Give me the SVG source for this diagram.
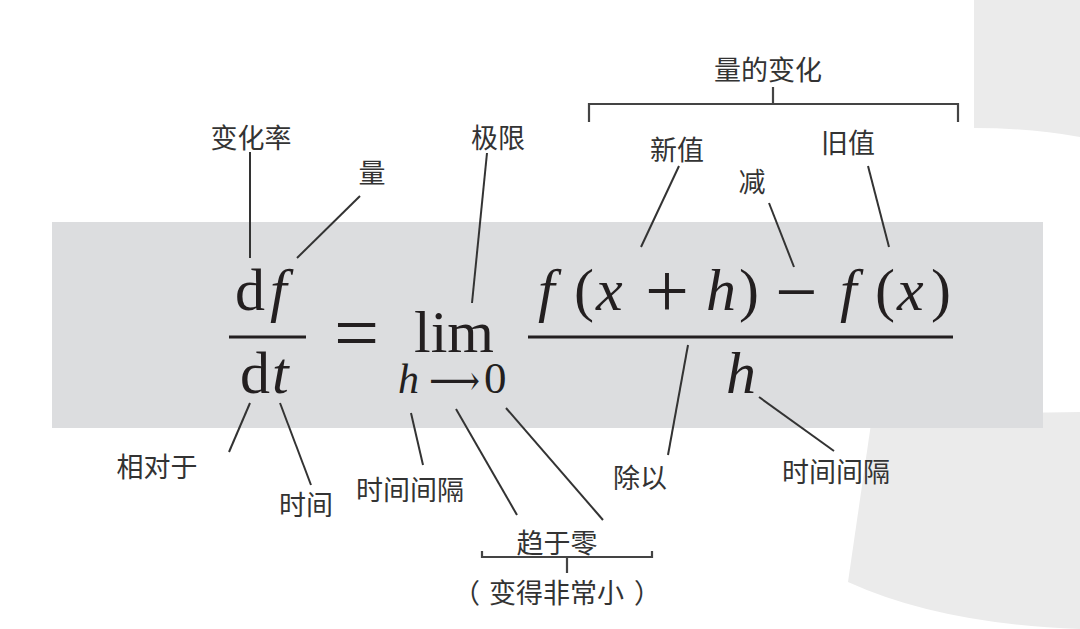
<svg xmlns="http://www.w3.org/2000/svg" width="1080" height="629" viewBox="0 0 1080 629">
<style>
.lbl{font-family:"Noto Sans CJK SC","Noto Sans",sans-serif;font-size:27px;fill:#333;text-anchor:middle}
.m{font-family:"Liberation Serif","Times New Roman",serif;fill:#231f20}
.i{font-style:italic}
.ln{stroke:#333;stroke-width:2;fill:none}
.br{stroke:#444;stroke-width:2.2;fill:none}
</style>
<rect width="1080" height="629" fill="#fff"/>
<g id="background">
<path d="M974,0 H1080 V137 Q1030,128 974,128 Z" fill="#ebebeb"/>
<path d="M873,410 Q980,414 1080,412 V629 Q940,624 848,582 Z" fill="#ebebeb"/>
<rect x="52" y="222" width="991" height="206" fill="#dcdddf"/>
</g>
<g id="formula">
<g id="dfdt">
<text class="m" font-size="60" y="310"><tspan x="235">d</tspan><tspan class="i" x="270">f</tspan></text>
<rect x="229" y="335.5" width="77" height="3" fill="#231f20"/>
<text class="m" font-size="60" y="393"><tspan x="240">d</tspan><tspan class="i" x="272">t</tspan></text>
</g>
<text id="eq" class="m" font-size="80" x="334" y="360">=</text>
<g id="lim">
<text class="m" font-size="60" x="414" y="352">lim</text>
<text class="m i" font-size="42" x="398" y="393">h</text>
<text font-family="DejaVu Serif" fill="#231f20" font-size="42" x="429" y="395" textLength="51" lengthAdjust="spacingAndGlyphs">⟶</text>
<text class="m" font-size="45" x="484" y="393">0</text>
</g>
<g id="quotient">
<text class="m" font-size="60" y="310"><tspan class="i" x="538">f</tspan><tspan x="574">(</tspan><tspan class="i" x="596">x</tspan><tspan x="706" class="i">h</tspan><tspan x="739">)</tspan><tspan class="i" x="840">f</tspan><tspan x="875">(</tspan><tspan class="i" x="897">x</tspan><tspan x="931">)</tspan></text>
<text class="m" font-size="78" x="645" y="317">+</text>
<text class="m" font-size="75" x="775" y="317">−</text>
<rect x="528" y="335.5" width="425" height="3" fill="#231f20"/>
<text class="m i" font-size="60" x="726" y="393">h</text>
</g>
</g>
<g id="connectors">
<line class="ln" x1="250" y1="152" x2="250" y2="258"/>
<line class="ln" x1="360" y1="196" x2="297" y2="258"/>
<line class="ln" x1="487" y1="153" x2="472" y2="303"/>
<line class="ln" x1="679" y1="166" x2="641" y2="247"/>
<line class="ln" x1="769" y1="203" x2="794" y2="267"/>
<line class="ln" x1="868" y1="166" x2="889" y2="247"/>
<line class="ln" x1="688" y1="345" x2="668" y2="455"/>
<line class="ln" x1="759" y1="397" x2="834" y2="451"/>
<line class="ln" x1="250" y1="403" x2="229" y2="452"/>
<line class="ln" x1="280" y1="403" x2="311" y2="485"/>
<line class="ln" x1="411" y1="413" x2="423" y2="465"/>
<line class="ln" x1="456" y1="409" x2="517" y2="515"/>
<line class="ln" x1="506" y1="408" x2="603" y2="520"/>
<path class="br" d="M589,122 V104 H958 V122 M773,104 V87"/>
<path class="br" d="M482,551 V557 H652 V551 M567,557 V573"/>
</g>
<g id="n-rate"><text class="lbl" x="251" y="148">变化率</text></g>
<g id="n-quantity"><text class="lbl" x="372" y="183">量</text></g>
<g id="n-limit"><text class="lbl" x="498" y="148">极限</text></g>
<g id="n-change"><text class="lbl" x="768" y="80">量的变化</text></g>
<g id="n-new"><text class="lbl" x="677" y="160">新值</text></g>
<g id="n-old"><text class="lbl" x="848" y="153">旧值</text></g>
<g id="n-minus"><text class="lbl" x="752" y="192">减</text></g>
<g id="n-respect"><text class="lbl" x="157" y="477">相对于</text></g>
<g id="n-time"><text class="lbl" x="306" y="515">时间</text></g>
<g id="n-interval1"><text class="lbl" x="410" y="500">时间间隔</text></g>
<g id="n-interval2"><text class="lbl" x="836" y="482">时间间隔</text></g>
<g id="n-divide"><text class="lbl" x="640" y="488">除以</text></g>
<g id="n-tozero"><text class="lbl" x="557" y="553">趋于零</text></g>
<g id="n-small"><text class="lbl" style="text-anchor:start" y="603"><tspan x="453">（</tspan><tspan x="489">变得非常小</tspan><tspan x="634">）</tspan></text></g>
</svg>
